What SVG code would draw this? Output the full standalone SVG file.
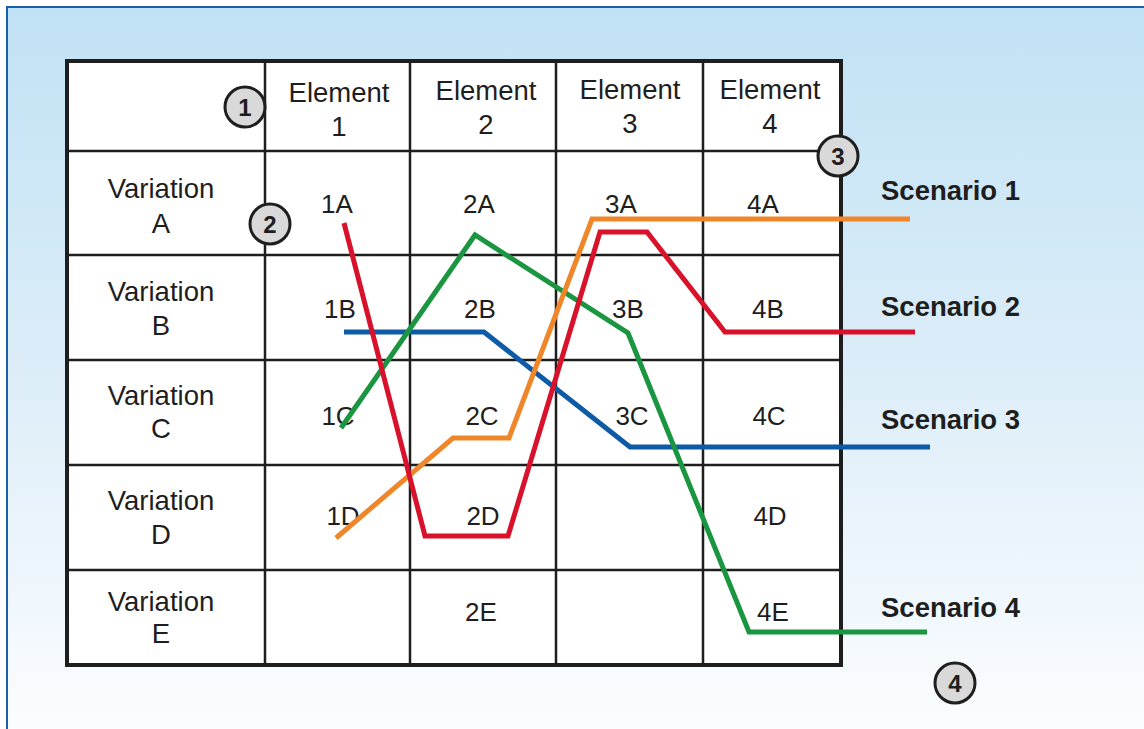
<svg xmlns="http://www.w3.org/2000/svg" width="1144" height="729" viewBox="0 0 1144 729">
<defs>
<linearGradient id="bg" x1="0" y1="0" x2="0" y2="1">
<stop offset="0" stop-color="#c0e2f5"/>
<stop offset="0.5" stop-color="#dcedf8"/>
<stop offset="1" stop-color="#fbfdff"/>
</linearGradient>
</defs>
<style>
.t{font-family:"Liberation Sans",Arial,sans-serif;font-size:27.5px;fill:#1e1e1e;text-anchor:middle}
.c{font-family:"Liberation Sans",Arial,sans-serif;font-size:26px;fill:#1e1e1e;text-anchor:middle}
.s{font-family:"Liberation Sans",Arial,sans-serif;font-size:27.5px;font-weight:bold;fill:#1e1e1e}
.g{stroke:#1e1e1e;stroke-width:2.5;fill:none}
.o{stroke:#1e1e1e;stroke-width:4;fill:#fff}
.b circle{fill:#d9d9d9;stroke:#1e1e1e;stroke-width:3}
.b text{font-family:"Liberation Sans",Arial,sans-serif;font-size:24px;font-weight:bold;fill:#1e1e1e;text-anchor:middle}
.ln{fill:none;stroke-width:5;stroke-linejoin:miter}
</style>
<rect x="0" y="0" width="1144" height="729" fill="#fff"/>
<rect x="6" y="6" width="1138" height="723" fill="url(#bg)"/>
<path d="M7 729V7H1144" fill="none" stroke="#1a5fa8" stroke-width="2"/>
<g id="table">
<rect class="o" x="67" y="61" width="774" height="604"/>
<path class="g" d="M265 61V665M410 61V665M556 61V665M703 61V665M67 151H841M67 255H841M67 360H841M67 465H841M67 570H841"/>
</g>
<g id="headers">
<text class="t" x="339" y="102">Element</text><text class="t" x="339" y="136">1</text>
<text class="t" x="486" y="100">Element</text><text class="t" x="486" y="134">2</text>
<text class="t" x="630" y="99">Element</text><text class="t" x="630" y="133">3</text>
<text class="t" x="770" y="99">Element</text><text class="t" x="770" y="133">4</text>
</g>
<g id="variations">
<text class="t" x="161" y="198">Variation</text><text class="t" x="161" y="233">A</text>
<text class="t" x="161" y="301">Variation</text><text class="t" x="161" y="335">B</text>
<text class="t" x="161" y="405">Variation</text><text class="t" x="161" y="438">C</text>
<text class="t" x="161" y="510">Variation</text><text class="t" x="161" y="544">D</text>
<text class="t" x="161" y="611">Variation</text><text class="t" x="161" y="643">E</text>
</g>
<g id="cells">
<text class="c" x="337" y="213">1A</text><text class="c" x="479" y="213">2A</text><text class="c" x="621" y="213">3A</text><text class="c" x="763" y="213">4A</text>
<text class="c" x="340" y="318">1B</text><text class="c" x="480" y="318">2B</text><text class="c" x="628" y="318">3B</text><text class="c" x="768" y="318">4B</text>
<text class="c" x="338" y="425">1C</text><text class="c" x="482" y="425">2C</text><text class="c" x="632" y="425">3C</text><text class="c" x="769" y="425">4C</text>
<text class="c" x="343" y="525">1D</text><text class="c" x="483" y="525">2D</text><text class="c" x="770" y="525">4D</text>
<text class="c" x="481" y="621">2E</text><text class="c" x="773" y="621">4E</text>
</g>
<g id="connectors">
<polyline class="ln" stroke="#0d5aa7" points="344,332 484,332 630,447 930,447"/>
<polyline class="ln" stroke="#1a9540" points="341,428 475,235 628,333 749,632 927,632"/>
<polyline class="ln" stroke="#f0862a" points="336,538 453,438 509,438 592,219 910,219"/>
<polyline class="ln" stroke="#d9122b" points="344,223 425,536 508,536 600,232 647,232 725,332 915,332"/>
</g>
<g id="scenarios">
<text class="s" x="881" y="200">Scenario 1</text>
<text class="s" x="881" y="316">Scenario 2</text>
<text class="s" x="881" y="429">Scenario 3</text>
<text class="s" x="881" y="617">Scenario 4</text>
</g>
<g id="badge1" class="b"><circle cx="245" cy="107" r="20"/><text x="245" y="116">1</text></g>
<g id="badge2" class="b"><circle cx="270" cy="224" r="20"/><text x="270" y="233">2</text></g>
<g id="badge3" class="b"><circle cx="838" cy="156" r="20"/><text x="838" y="165">3</text></g>
<g id="badge4" class="b"><circle cx="955" cy="683" r="20"/><text x="955" y="692">4</text></g>
</svg>
